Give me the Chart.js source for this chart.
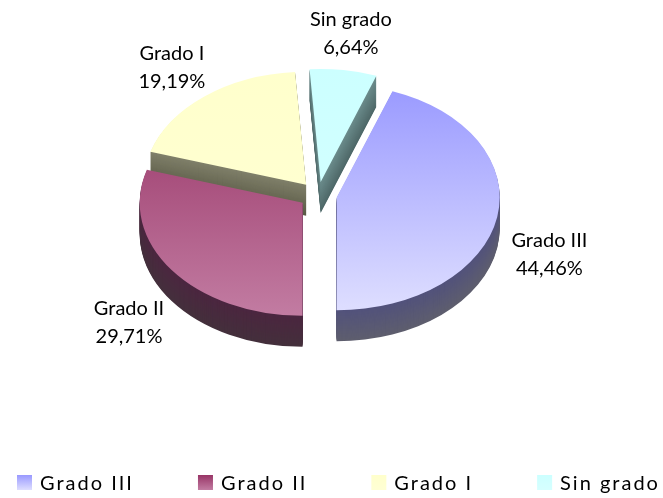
<!DOCTYPE html>
<html>
<head>
<meta charset="utf-8">
<script src="https://cdn.jsdelivr.net/npm/chart.js@4.4.0/dist/chart.umd.min.js"></script>
<style>
  html, body { margin: 0; padding: 0; background: #fff; }
  #grafico { display: block; }
</style>
</head>
<body>
<canvas id="grafico" width="663" height="498"></canvas>
<script>
// Datos del gráfico
var categorias = ['Grado III', 'Grado II', 'Grado I', 'Sin grado'];
var porcentajes = [44.46, 29.71, 19.19, 6.64];

// Colores: cara superior (arriba / abajo) y lateral (arriba / abajo)
var coloresArriba = ['#9999ff', '#983466', '#ffffcc', '#ccffff'];
var coloresAbajo = ['#dedeff', '#c27ca2', '#ffffd4', '#d6ffff'];
var ladoArriba = ['#52527c', '#4c2640', '#80806a', '#6c8c8c'];
var ladoAbajo = ['#5e5e6e', '#44303c', '#5a5a46', '#4e6868'];

// Parámetros del efecto 3D
var ESCALA = 0.693;   // aplastamiento vertical
var GROSOR = 31;      // grosor en px de pantalla
var EXPLOSION = 19;   // separación de las porciones

function formato(v) {
    return v.toFixed(2).replace('.', ',') + '%';
}

function mezcla(a, b, t) {
    var pa = parseInt(a.slice(1), 16), pb = parseInt(b.slice(1), 16);
    var r = Math.round(((pa >> 16) & 255) * (1 - t) + ((pb >> 16) & 255) * t);
    var g = Math.round(((pa >> 8) & 255) * (1 - t) + ((pb >> 8) & 255) * t);
    var bl = Math.round((pa & 255) * (1 - t) + (pb & 255) * t);
    return 'rgb(' + r + ',' + g + ',' + bl + ')';
}

// Plugin que dibuja la tarta en perspectiva con grosor
var tarta3d = {
    id: 'tarta3d',
    beforeDatasetsDraw: function(chart) {
        var ctx = chart.ctx;
        var arcs = chart.getDatasetMeta(0).data;
        var cy = arcs[0].y;
        var orden = [3, 2, 0, 1]; // de atrás hacia delante

        ctx.save();
        ctx.translate(0, cy * (1 - ESCALA));
        ctx.scale(1, ESCALA);

        // laterales
        orden.forEach(function(i) {
            var arc = arcs[i];
            var opts = arc.options;
            var mid = (arc.startAngle + arc.endAngle) / 2;
            var dx = Math.cos(mid) * EXPLOSION, dy = Math.sin(mid) * EXPLOSION;
            for (var k = GROSOR; k >= 1; k--) {
                arc.options = Object.assign({}, opts, {
                    backgroundColor: mezcla(ladoArriba[i], ladoAbajo[i], k / GROSOR),
                    borderWidth: 0
                });
                ctx.save();
                ctx.translate(dx, dy + k / ESCALA);
                arc.draw(ctx);
                ctx.restore();
            }
            arc.options = opts;
        });

        // caras superiores
        orden.forEach(function(i) {
            var arc = arcs[i];
            var opts = arc.options;
            var mid = (arc.startAngle + arc.endAngle) / 2;
            var dx = Math.cos(mid) * EXPLOSION, dy = Math.sin(mid) * EXPLOSION;
            var grad = ctx.createLinearGradient(0, cy - arc.outerRadius, 0, cy + arc.outerRadius);
            grad.addColorStop(0, coloresArriba[i]);
            grad.addColorStop(1, coloresAbajo[i]);
            arc.options = Object.assign({}, opts, { backgroundColor: grad, borderWidth: 0 });
            ctx.save();
            ctx.translate(dx, dy);
            arc.draw(ctx);
            ctx.restore();
            arc.options = opts;
        });

        ctx.restore();
        return false;
    },
    afterDraw: function(chart) {
        var ctx = chart.ctx;
        var arcs = chart.getDatasetMeta(0).data;

        // etiquetas de datos
        ctx.save();
        ctx.font = '20px Lato';
        ctx.fillStyle = '#000';
        ctx.textAlign = 'center';
        ctx.textBaseline = 'middle';
        arcs.forEach(function(arc, i) {
            var mid = (arc.startAngle + arc.endAngle) / 2;
            var R = arc.outerRadius + 72;
            var x = arc.x + Math.cos(mid) * R;
            var y = arc.y + Math.sin(mid) * R * ESCALA + (Math.sin(mid) > 0 ? GROSOR : 0);
            ctx.fillText(categorias[i], x, y - 14);
            ctx.fillText(formato(porcentajes[i]), x, y + 14);
        });
        ctx.restore();

        // leyenda
        ctx.save();
        ctx.font = '20px Lato';
        ctx.letterSpacing = '2px';
        ctx.textAlign = 'left';
        ctx.textBaseline = 'middle';
        var x = 17, yCaja = 475;
        categorias.forEach(function(c, i) {
            var g = ctx.createLinearGradient(0, yCaja, 0, yCaja + 15);
            g.addColorStop(0, coloresArriba[i]);
            g.addColorStop(1, coloresAbajo[i]);
            ctx.fillStyle = g;
            ctx.fillRect(x, yCaja, 15, 15);
            ctx.fillStyle = '#000';
            ctx.fillText(c, x + 23, 484);
            x += 23 + ctx.measureText(c).width + 64;
        });
        ctx.restore();
    }
};

var ctx = document.getElementById('grafico').getContext('2d');
new Chart(ctx, {
    type: 'pie',
    data: {
        labels: categorias,
        datasets: [{
            data: porcentajes,
            backgroundColor: coloresArriba,
            borderWidth: 0
        }]
    },
    options: {
        responsive: false,
        animation: false,
        rotation: 20,
        layout: { padding: { left: 155, right: 182, top: 32, bottom: 140 } },
        plugins: {
            legend: { display: false },
            tooltip: { enabled: false }
        }
    },
    plugins: [tarta3d]
});
</script>
</body>
</html>
